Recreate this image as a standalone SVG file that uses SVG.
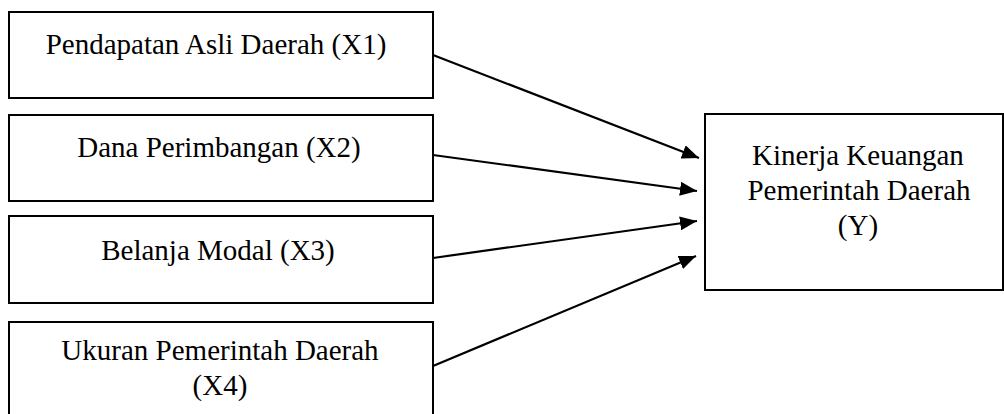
<svg xmlns="http://www.w3.org/2000/svg" width="1004" height="414" viewBox="0 0 1004 414">
<style>
.box{fill:#fff;stroke:#000;stroke-width:2}
.t{font-family:"Liberation Serif","Times New Roman",serif;font-size:29px;fill:#000;text-anchor:middle}
.c{stroke:#000;stroke-width:2.2;fill:none;marker-end:url(#ah)}
</style>
<defs>
<marker id="ah" markerUnits="userSpaceOnUse" markerWidth="18" markerHeight="14" refX="17" refY="7" orient="auto">
<path d="M0,0 L17,7 L0,14 Z" fill="#000"/>
</marker>
</defs>
<rect width="1004" height="414" fill="#fff"/>
<g id="x1"><rect class="box" x="9" y="12" width="424" height="86"/><text class="t" x="216" y="54">Pendapatan Asli Daerah (X1)</text></g>
<g id="x2"><rect class="box" x="9" y="115" width="424" height="86"/><text class="t" x="219" y="157">Dana Perimbangan (X2)</text></g>
<g id="x3"><rect class="box" x="9" y="216" width="424" height="87"/><text class="t" x="218" y="260">Belanja Modal (X3)</text></g>
<g id="x4"><rect class="box" x="9" y="322" width="424" height="100"/><text class="t" x="220" y="360">Ukuran Pemerintah Daerah</text><text class="t" x="220" y="395">(X4)</text></g>
<g id="y"><rect class="box" x="705" y="114" width="298" height="176"/><text class="t" x="858" y="165">Kinerja Keuangan</text><text class="t" x="859" y="200">Pemerintah Daerah</text><text class="t" x="858" y="235">(Y)</text></g>
<g id="connectors">
<line class="c" x1="433" y1="55" x2="699" y2="158"/>
<line class="c" x1="433" y1="155" x2="697" y2="191"/>
<line class="c" x1="433" y1="258" x2="697" y2="221"/>
<line class="c" x1="433" y1="366" x2="696" y2="256"/>
</g>
</svg>
